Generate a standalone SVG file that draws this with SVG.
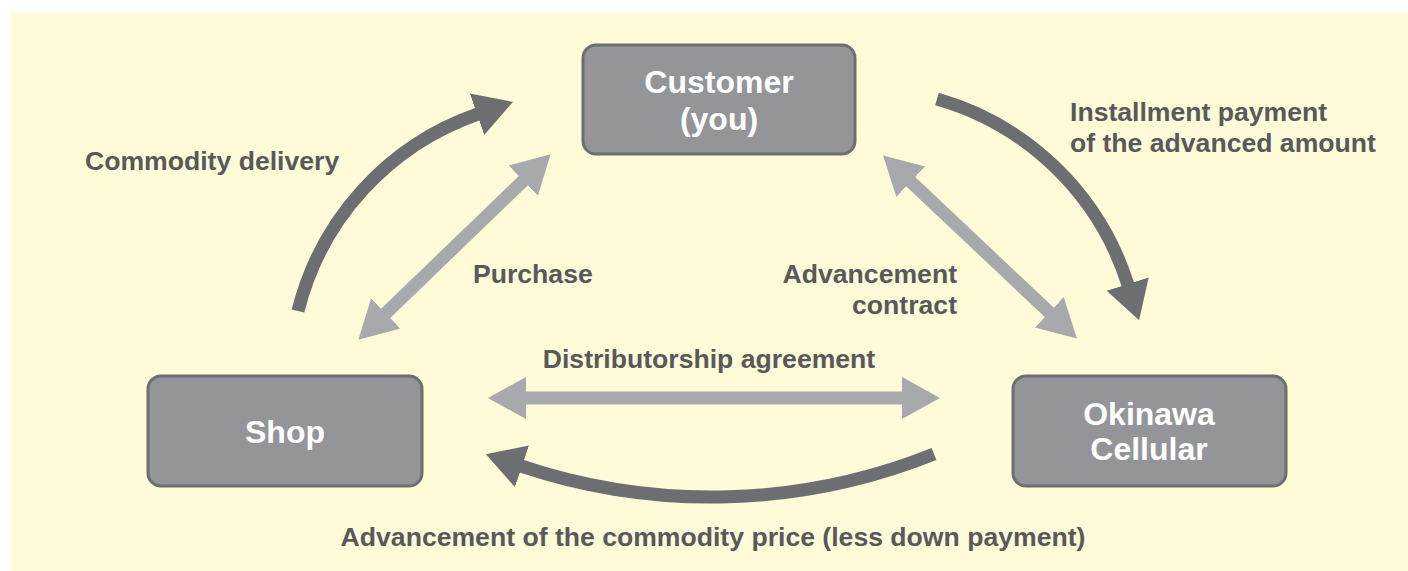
<svg xmlns="http://www.w3.org/2000/svg" width="1408" height="571" viewBox="0 0 1408 571">
<defs>
<style>
.bg{fill:#fffad7}
.node rect{fill:#939598;stroke:#6d6e71;stroke-width:3}
.node text{fill:#ffffff;font-family:"Liberation Sans",Arial,sans-serif;font-weight:bold;font-size:32px;text-anchor:middle}
.lbl{fill:#58595b;font-family:"Liberation Sans",Arial,sans-serif;font-weight:bold;font-size:26.6px}
.dark{fill:none;stroke:#6d6e71;stroke-width:13;marker-end:url(#hd)}
.light{fill:none;stroke:#a7a9ac;stroke-width:13;marker-start:url(#hl);marker-end:url(#hl)}
</style>
<marker id="hd" markerUnits="userSpaceOnUse" markerWidth="40" markerHeight="46" viewBox="0 -23 40 46" refX="1" refY="0" orient="auto">
<path d="M0,-22 L38,0 L0,22 Z" fill="#6d6e71"/>
</marker>
<marker id="hl" markerUnits="userSpaceOnUse" markerWidth="40" markerHeight="46" viewBox="0 -23 40 46" refX="1" refY="0" orient="auto-start-reverse">
<path d="M0,-21 L38,0 L0,21 Z" fill="#a7a9ac"/>
</marker>
</defs>
<rect class="bg" x="11" y="12" width="1397" height="559"/>
<g id="connectors">
<path class="dark" d="M298,311 A280,280 0 0 1 478,114"/>
<path class="dark" d="M937,99 A281,281 0 0 1 1128,285"/>
<path class="dark" d="M934,454 A598,598 0 0 1 521,466"/>
<path class="light" d="M385,314 L524,180"/>
<path class="light" d="M910,181 L1050,313"/>
<path class="light" d="M525,398 L903,398"/>
</g>
<g id="labels">
<text class="lbl" x="85" y="170">Commodity delivery</text>
<text class="lbl" x="1070" y="121">Installment payment</text>
<text class="lbl" x="1070" y="152">of the advanced amount</text>
<text class="lbl" x="473" y="283">Purchase</text>
<text class="lbl" x="957" y="283" text-anchor="end">Advancement</text>
<text class="lbl" x="957" y="314" text-anchor="end">contract</text>
<text class="lbl" x="709" y="368" text-anchor="middle">Distributorship agreement</text>
<text class="lbl" x="713" y="546" text-anchor="middle">Advancement of the commodity price (less down payment)</text>
</g>
<g id="customer" class="node">
<rect x="583" y="45" width="272" height="109" rx="13"/>
<text x="719" y="93">Customer</text>
<text x="719" y="130">(you)</text>
</g>
<g id="shop" class="node">
<rect x="148" y="376" width="274" height="110" rx="13"/>
<text x="285" y="443">Shop</text>
</g>
<g id="okinawa-cellular" class="node">
<rect x="1013" y="376" width="273" height="110" rx="13"/>
<text x="1149" y="425">Okinawa</text>
<text x="1149" y="460">Cellular</text>
</g>
</svg>
